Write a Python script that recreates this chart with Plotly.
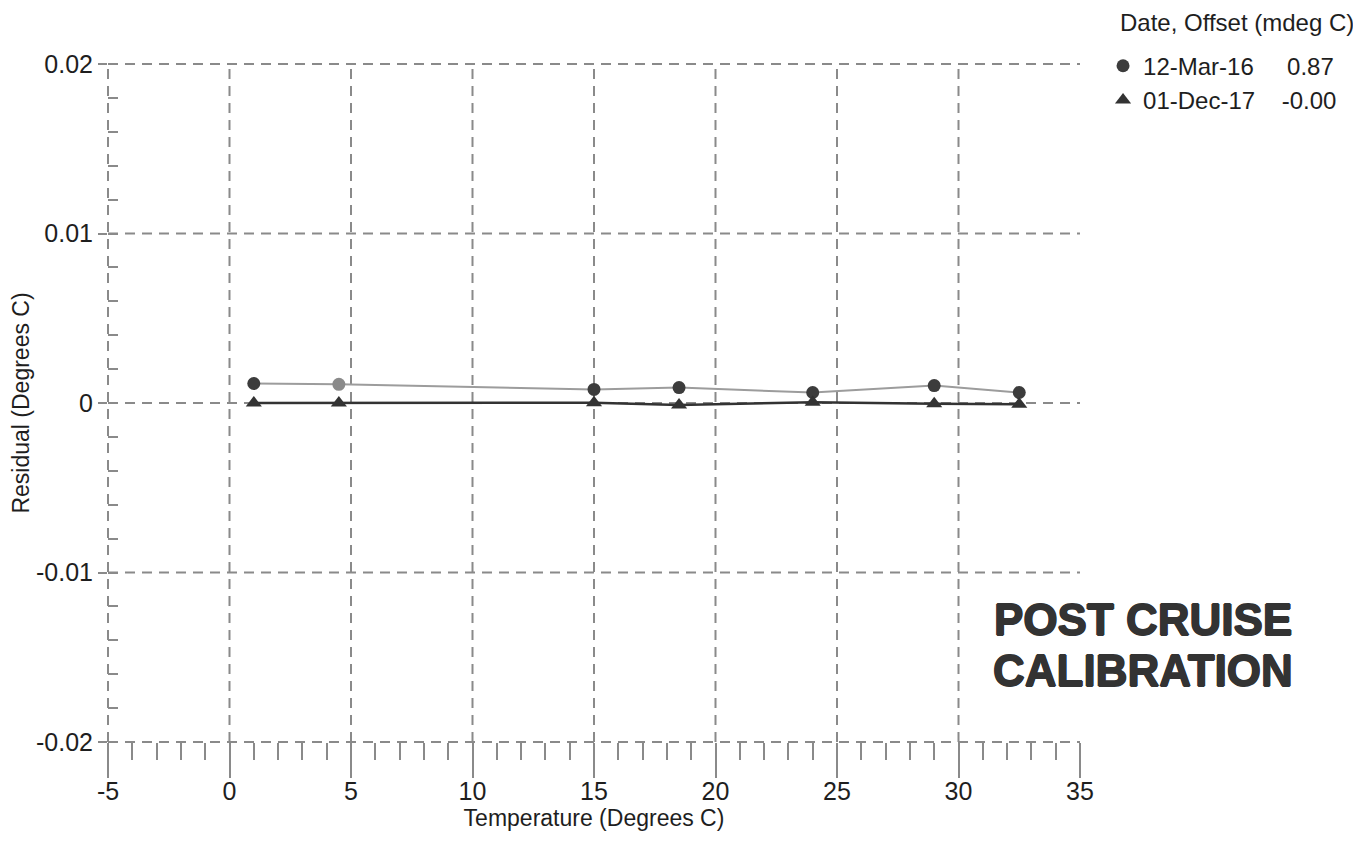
import plotly.graph_objects as go

# ---- data ----
temp_mar16 = [1.0, 4.5, 15.0, 18.5, 24.0, 29.0, 32.5]
resid_mar16 = [0.00115, 0.00110, 0.00080, 0.00091, 0.00062, 0.00103, 0.00062]
temp_dec17 = [1.0, 4.5, 15.0, 18.5, 24.0, 29.0, 32.5]
resid_dec17 = [0.0, 0.0, 0.00002, -0.00012, 0.00004, -0.00004, -0.00008]

series_names = ["12-Mar-16\u00a0\u00a0\u00a0\u00a0\u00a00.87", "01-Dec-17\u00a0\u00a0\u00a0\u00a0-0.00"]
legend_title = "Date, Offset (mdeg C)"

x_ticks = [-5, 0, 5, 10, 15, 20, 25, 30, 35]
x_ticktext = ["-5", "0", "5", "10", "15", "20", "25", "30", "35"]
y_ticks = [-0.02, -0.01, 0, 0.01, 0.02]
y_ticktext = ["-0.02", "-0.01", "0", "0.01", "0.02"]

X_RANGE = [-5, 35]
Y_RANGE = [-0.02, 0.02]

FONT = "Arial, Liberation Sans, sans-serif"
GRID = "#8a8a8a"
TXT = "#1e1e1e"
circle_colors = ["#3c3c3c", "#8a8a8a", "#3c3c3c", "#3c3c3c", "#3c3c3c", "#3c3c3c", "#3c3c3c"]

fig = go.Figure()

fig.add_trace(go.Scatter(x=temp_mar16, y=resid_mar16, mode="lines",
                         line=dict(color="#9c9c9c", width=2), showlegend=False,
                         hoverinfo="skip"))
fig.add_trace(go.Scatter(x=temp_mar16, y=resid_mar16, mode="markers",
                         marker=dict(symbol="circle", size=13, color=circle_colors),
                         name=series_names[0], legendgroup="a"))
fig.add_trace(go.Scatter(x=temp_dec17, y=resid_dec17, mode="lines",
                         line=dict(color="#333333", width=2.5), showlegend=False,
                         hoverinfo="skip"))
fig.add_trace(go.Scatter(x=temp_dec17, y=resid_dec17, mode="markers",
                         marker=dict(symbol="triangle-up", size=14, color="#333333"),
                         name=series_names[1], legendgroup="b"))

# dashed grid drawn as shapes (paper coords derived from the axis ranges)
def xp(v):
    return (v - X_RANGE[0]) / (X_RANGE[1] - X_RANGE[0])

def yp(v):
    return (v - Y_RANGE[0]) / (Y_RANGE[1] - Y_RANGE[0])

shapes = []
for v in x_ticks[:-1]:
    shapes.append(dict(type="line", xref="paper", yref="paper", x0=xp(v), x1=xp(v),
                       y0=0, y1=1, layer="below",
                       line=dict(color=GRID, width=2, dash="10px,7px")))
for v in y_ticks:
    shapes.append(dict(type="line", xref="paper", yref="paper", x0=0, x1=1,
                       y0=yp(v), y1=yp(v), layer="below",
                       line=dict(color=GRID, width=2, dash="10px,7px")))

heavy = "0.8px 0 0 #333333, -0.8px 0 0 #333333, 0 0.8px 0 #333333, 0 -0.8px 0 #333333"

# the page body adds an 8px margin, so the figure is 8px smaller on each side
fig.update_layout(
    width=1353, height=836,
    margin=dict(l=100, r=281, t=56, b=102, autoexpand=False),
    paper_bgcolor="white", plot_bgcolor="white",
    font=dict(family=FONT, size=23, color=TXT),
    shapes=shapes,
    showlegend=True,
    legend=dict(
        font=dict(size=24, color=TXT),
        x=1.0237, xanchor="left", xref="paper",
        y=1.03, yanchor="top",
        bgcolor="rgba(0,0,0,0)", borderwidth=0,
        tracegroupgap=0, traceorder="normal",
    ),
    annotations=[
        dict(text=legend_title, xref="paper", yref="paper",
             x=1.039, y=1.0605, xanchor="left", yanchor="middle", showarrow=False,
             font=dict(family=FONT, size=24, color=TXT)),
        dict(text="<b>POST CRUISE</b>", xref="paper", yref="paper",
             x=1.065, y=0.18, xanchor="center", yanchor="middle", showarrow=False,
             font=dict(family=FONT, size=44, color="#333333", shadow=heavy)),
        dict(text="<b>CALIBRATION</b>", xref="paper", yref="paper",
             x=1.065, y=0.106, xanchor="center", yanchor="middle", showarrow=False,
             font=dict(family=FONT, size=44, color="#333333", shadow=heavy)),
    ],
)

fig.update_xaxes(
    range=X_RANGE, tickmode="array", tickvals=x_ticks, ticktext=x_ticktext,
    showgrid=False, zeroline=False, showline=False, automargin=False,
    ticks="outside", ticklen=35, tickwidth=2, tickcolor=GRID,
    ticklabelstandoff=-8,
    tickfont=dict(size=25, color=TXT),
    minor=dict(ticks="outside", ticklen=17, tickwidth=2, tickcolor=GRID, dtick=1,
               tick0=0, showgrid=False),
    title=dict(text="Temperature (Degrees C)", standoff=5,
               font=dict(size=23, color=TXT)),
)
fig.update_yaxes(
    range=Y_RANGE, tickmode="array", tickvals=y_ticks, ticktext=y_ticktext,
    showgrid=False, zeroline=False, showline=False, automargin=False,
    ticks="outside", ticklen=9, tickwidth=2, tickcolor=GRID,
    tickfont=dict(size=25, color=TXT),
    minor=dict(ticks="inside", ticklen=10, tickwidth=2, tickcolor=GRID, dtick=0.002,
               tick0=0, showgrid=False),
    title=dict(text="Residual (Degrees C)", standoff=0,
               font=dict(size=23, color=TXT)),
)

fig.write_html("out.html")
